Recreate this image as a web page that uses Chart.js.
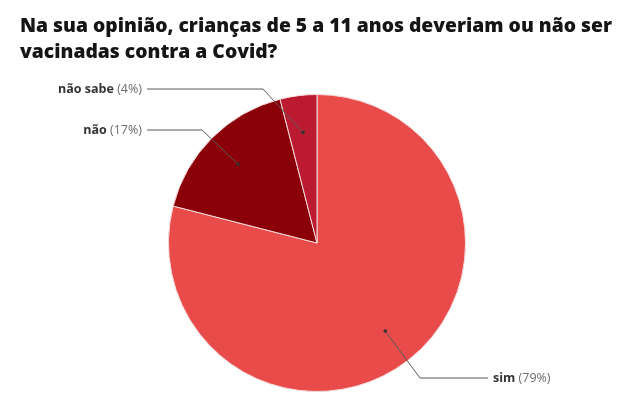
<!DOCTYPE html>
<html lang="pt-BR">
<head>
<meta charset="utf-8">
<title>Vacinação de crianças contra a Covid</title>
<script src="https://cdn.jsdelivr.net/npm/chart.js@4.4.0/dist/chart.umd.min.js"></script>
<style>
  html, body { margin: 0; padding: 0; background: #fff; }
  #wrap { width: 640px; height: 407px; }
</style>
</head>
<body>
<div id="wrap"><canvas id="grafico" width="640" height="407"></canvas></div>
<script>
// Dados da pesquisa
const titulo = ['Na sua opinião, crianças de 5 a 11 anos deveriam ou não ser', 'vacinadas contra a Covid?'];
const categorias = ['sim', 'não', 'não sabe'];
const percentuais = [79, 17, 4];
const cores = ['#e94b4b', '#8b0008', '#bb1a30'];

// Onde ficam os rótulos, relativo ao centro da pizza
const posRotulos = [
    { lado: 'direita', dy: 135, cotoveloDx: 103 },
    { lado: 'esquerda', dy: -113, cotoveloDx: -115 },
    { lado: 'esquerda', dy: -154, cotoveloDx: -54 }
];

const FONTE = '"Open Sans", "Noto Sans", sans-serif';

// Título em duas linhas, alinhado à esquerda (um pouco condensado)
const pluginTitulo = {
    id: 'titulo',
    afterDraw(chart) {
        const ctx = chart.ctx;
        ctx.save();
        ctx.fillStyle = '#151515';
        ctx.font = '800 20px ' + FONTE;
        ctx.textBaseline = 'alphabetic';
        ctx.textAlign = 'left';
        const largura = ctx.measureText(titulo[0]).width;
        const escala = Math.min(1, 592 / largura);
        ctx.translate(20, 0);
        ctx.scale(escala, 1);
        titulo.forEach((linha, i) => {
            ctx.fillText(linha, 0, 32 + i * 26);
        });
        ctx.restore();
    }
};

// Rótulos com linha guia e ponto dentro da fatia
const pluginRotulos = {
    id: 'rotulos',
    afterDatasetsDraw(chart) {
        const ctx = chart.ctx;
        const meta = chart.getDatasetMeta(0);
        ctx.save();
        meta.data.forEach((arc, i) => {
            const { x, y, startAngle, endAngle, outerRadius } =
                arc.getProps(['x', 'y', 'startAngle', 'endAngle', 'outerRadius'], true);
            const meio = (startAngle + endAngle) / 2;
            const px = x + Math.cos(meio) * outerRadius * 0.75;
            const py = y + Math.sin(meio) * outerRadius * 0.75;
            const cfg = posRotulos[i];
            const direita = cfg.lado === 'direita';
            const ly = y + cfg.dy;
            const cx = x + cfg.cotoveloDx;
            const fimLinha = direita ? x + 171 : x - 170;

            // linha guia
            ctx.strokeStyle = '#5a5a5a';
            ctx.lineWidth = 1;
            ctx.beginPath();
            ctx.moveTo(px, py);
            ctx.lineTo(cx, ly);
            ctx.lineTo(fimLinha, ly);
            ctx.stroke();

            // ponto
            ctx.fillStyle = '#333';
            ctx.beginPath();
            ctx.arc(px, py, 1.8, 0, Math.PI * 2);
            ctx.fill();

            // texto
            const nome = categorias[i];
            const pct = '(' + percentuais[i] + '%)';
            ctx.textBaseline = 'middle';
            ctx.font = '700 12.5px ' + FONTE;
            const wNome = ctx.measureText(nome + ' ').width;
            ctx.font = '400 12.5px ' + FONTE;
            const wPct = ctx.measureText(pct).width;
            const tx = direita ? x + 176 : x - 175 - wNome - wPct;
            ctx.textAlign = 'left';
            ctx.font = '700 12.5px ' + FONTE;
            ctx.fillStyle = '#333';
            ctx.fillText(nome, tx, ly);
            ctx.font = '400 12.5px ' + FONTE;
            ctx.fillStyle = '#6b6b6b';
            ctx.fillText(pct, tx + wNome, ly);
        });
        ctx.restore();
    }
};

new Chart(document.getElementById('grafico'), {
    type: 'pie',
    data: {
        labels: categorias,
        datasets: [{
            data: percentuais,
            backgroundColor: cores,
            borderColor: '#f6dada',
            borderWidth: 1
        }]
    },
    options: {
        responsive: false,
        animation: false,
        layout: {
            padding: { top: 94, bottom: 15, left: 168, right: 174 }
        },
        plugins: {
            legend: { display: false },
            tooltip: { enabled: false },
            title: { display: false }
        }
    },
    plugins: [pluginTitulo, pluginRotulos]
});
</script>
</body>
</html>
